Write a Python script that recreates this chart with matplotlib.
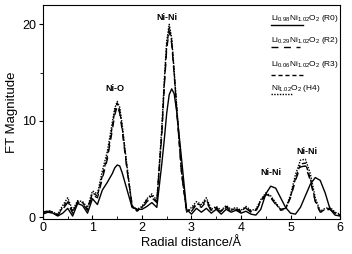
import numpy as np
import matplotlib
matplotlib.use('Agg')
import matplotlib.pyplot as plt

plt.rcParams['font.family'] = ['Liberation Sans', 'DejaVu Sans']
plt.rcParams['mathtext.default'] = 'regular'

# radial distance grid (A)
r = [0, 0.1, 0.2, 0.3, 0.4, 0.5, 0.6, 0.7, 0.8, 0.9, 1.0, 1.1, 1.2, 1.3, 1.4,
     1.45, 1.5, 1.55, 1.6, 1.7, 1.8, 1.9, 2.0, 2.1, 2.2, 2.3, 2.4,
     2.45, 2.5, 2.55, 2.6, 2.65, 2.7, 2.8, 2.9, 3.0, 3.1, 3.2, 3.3, 3.4, 3.5,
     3.6, 3.7, 3.8, 3.9, 4.0, 4.1, 4.2, 4.3, 4.4, 4.5, 4.6, 4.7, 4.8, 4.9,
     5.0, 5.1, 5.2, 5.3, 5.4, 5.5, 5.6, 5.7, 5.8, 5.9, 6.0]

ft_r0 = [0.3, 0.5, 0.4, 0.1, 0.4, 0.9, 0.1, 1.4, 1.2, 0.4, 1.9, 1.3, 2.8, 3.6, 4.5,
         5.1, 5.4, 5.3, 4.6, 2.8, 1.0, 0.8, 0.8, 1.1, 1.5, 1.0, 5.5,
         8.0, 10.8, 12.7, 13.3, 12.8, 11.0, 6.0, 0.8, 0.3, 0.9, 0.5, 0.9, 0.4, 0.8,
         0.3, 0.8, 0.5, 0.7, 0.4, 0.6, 0.3, 0.2, 0.8, 2.4, 3.2, 3.0, 2.0, 1.0,
         0.4, 0.3, 1.0, 2.2, 3.4, 4.1, 3.8, 2.5, 0.8, 0.2, 0.1]

ft_r2 = [0.5, 0.6, 0.4, 0.2, 0.8, 1.5, 0.4, 1.5, 1.4, 0.7, 2.3, 2.0, 4.0, 6.0, 9.0,
         10.6, 11.5, 10.8, 9.0, 4.8, 1.3, 0.7, 0.9, 1.6, 2.0, 1.5, 8.5,
         13.5, 17.5, 19.3, 18.0, 14.8, 11.2, 4.5, 0.7, 0.6, 1.3, 1.0, 1.6, 0.6, 0.9,
         0.5, 1.0, 0.6, 0.8, 0.5, 0.9, 0.5, 0.6, 1.6, 2.3, 2.0, 1.3, 0.8, 0.9,
         2.0, 3.8, 5.2, 5.3, 3.8, 1.6, 0.5, 0.7, 0.8, 0.4, 0.2]

ft_r3 = [0.4, 0.7, 0.5, 0.2, 1.0, 1.7, 0.5, 1.6, 1.5, 0.8, 2.5, 2.2, 4.3, 6.3, 9.4,
         11.0, 11.8, 11.1, 9.3, 5.0, 1.2, 0.6, 1.0, 1.8, 2.2, 1.6, 8.8,
         13.8, 17.8, 19.6, 18.3, 15.0, 11.4, 4.6, 0.6, 0.8, 1.4, 1.2, 1.8, 0.7, 1.0,
         0.6, 1.1, 0.7, 0.9, 0.6, 1.0, 0.6, 0.7, 1.7, 2.4, 2.1, 1.4, 0.7, 0.8,
         2.1, 4.0, 5.5, 5.6, 4.0, 1.7, 0.5, 0.8, 0.9, 0.4, 0.2]

ft_h4 = [0.5, 0.6, 0.5, 0.3, 1.2, 2.0, 0.7, 1.7, 1.6, 1.0, 2.7, 2.4, 4.8, 6.8, 9.8,
         11.3, 12.0, 11.4, 9.6, 5.2, 1.0, 0.8, 1.1, 1.9, 2.4, 1.7, 9.2,
         14.2, 18.3, 20.0, 18.6, 15.2, 11.6, 4.8, 0.5, 1.0, 1.6, 1.3, 2.0, 0.8, 1.1,
         0.7, 1.2, 0.8, 1.0, 0.7, 1.1, 0.7, 0.8, 1.8, 2.5, 2.2, 1.5, 0.8, 0.9,
         2.3, 4.4, 5.9, 6.0, 4.5, 2.0, 0.6, 0.9, 1.0, 0.5, 0.3]

labels = [r'Li$_{0.98}$Ni$_{1.02}$O$_2$ (R0)',
          r'Li$_{0.29}$Ni$_{1.02}$O$_2$ (R2)',
          r'Li$_{0.06}$Ni$_{1.02}$O$_2$ (R3)',
          r'Ni$_{1.02}$O$_2$ (H4)']

peak_names = ['Ni-O', 'Ni-Ni', 'Ni-Ni', 'Ni-Ni']
peak_x = [1.45, 2.5, 4.6, 5.33]
peak_y = [13.3, 20.7, 4.6, 6.8]

series = [ft_r0, ft_r2, ft_r3, ft_h4]
styles = ['-', (0, (5, 4)), (0, (3, 2)), (0, (1, 1))]

fig = plt.figure(figsize=(3.52, 2.54), dpi=100)
ax = fig.add_axes([0.122, 0.138, 0.844, 0.842])

for ys, ls in zip(series, styles):
    ax.plot(r, ys, color='black', linestyle=ls, linewidth=1.0)

for name, px, py in zip(peak_names, peak_x, peak_y):
    ax.text(px, py, name, fontsize=6.5, ha='center', va='center', fontweight='bold')

# legend drawn by hand: text with a short line sample underneath
text_y = [0.935, 0.836, 0.72, 0.612]
line_y = [0.905, 0.805, 0.673, 0.584]
line_end = [0.876, 0.865, 0.876, 0.84]
for lab, ls, ty, ly, le in zip(labels, styles, text_y, line_y, line_end):
    ax.text(0.766, ty, lab, transform=ax.transAxes, fontsize=6.0, va='center', ha='left')
    ax.plot([0.766, le], [ly, ly], transform=ax.transAxes, color='black', linestyle=ls, linewidth=1.0)

ax.set_xlim(0, 6)
ax.set_ylim(-0.2, 22)
ax.set_xticks([0, 1, 2, 3, 4, 5, 6])
ax.set_xticks(np.arange(0.5, 6, 1), minor=True)
ax.set_yticks([0, 10, 20])
ax.set_yticks([5, 15], minor=True)
ax.tick_params(axis='x', direction='in', labelsize=9, length=3, pad=2)
ax.tick_params(axis='x', which='minor', direction='in', length=2)
ax.tick_params(axis='y', direction='out', labelsize=9, length=3, pad=2)
ax.tick_params(axis='y', which='minor', direction='out', length=2)

ax.set_xlabel('Radial distance/Å', fontsize=9.3, labelpad=2)
ax.set_ylabel('FT Magnitude', fontsize=9.5, labelpad=3)

fig.savefig('out.png', dpi=100)
